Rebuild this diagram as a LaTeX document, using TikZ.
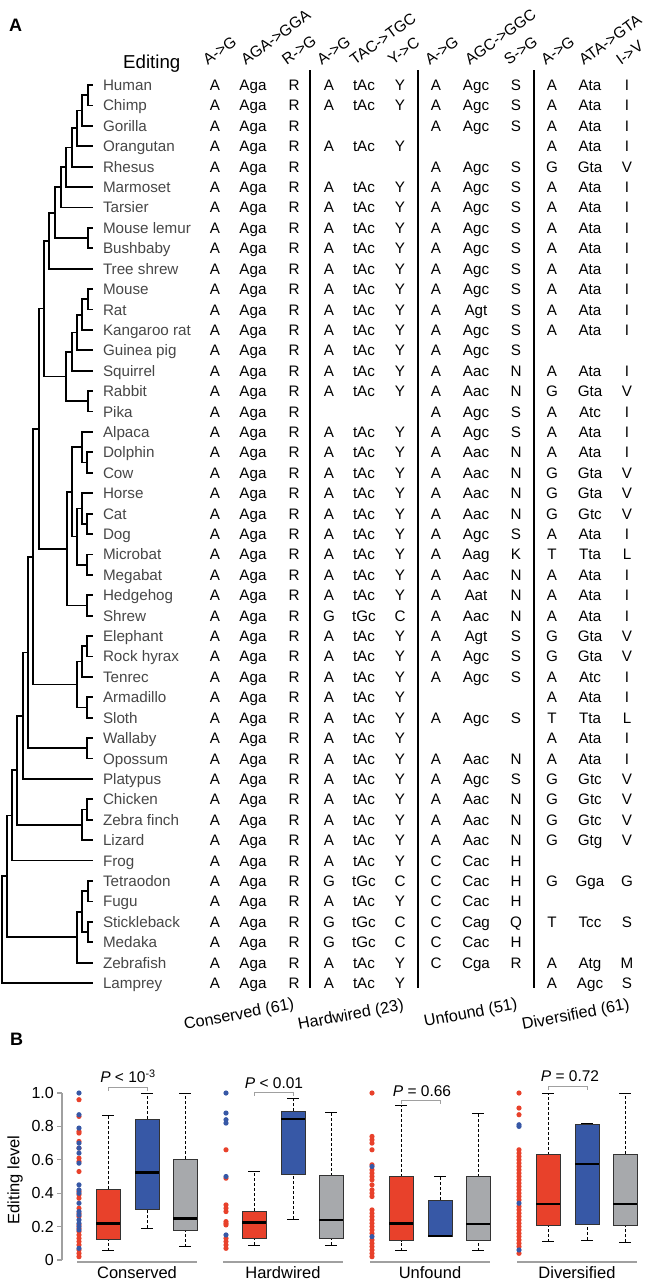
\documentclass[tikz,border=0pt]{standalone}
\usepackage{fontspec}
\setmainfont{Liberation Sans}
\definecolor{edred}{RGB}{232,65,43}
\definecolor{edblue}{RGB}{55,88,166}
\definecolor{edgray}{RGB}{167,169,172}
\definecolor{axisgray}{RGB}{160,160,160}

% one box of panel B: x, low whisker, q1, median, q3, high whisker, fill
\newcommand\editbox[7]{%
  \draw[whisk] (#1,#2) -- (#1,#3) (#1,#5) -- (#1,#6);
  \draw[whiskcap] (#1-6,#2) -- (#1+6,#2) (#1-6,#6) -- (#1+6,#6);
  \draw[boxline, fill=#7] (#1-12,#3) rectangle (#1+12,#5);
  \draw[medline] (#1-12,#4) -- (#1+12,#4);
}
\def\nocell{-}

\begin{document}
\begin{tikzpicture}[
    x=1pt, y=1pt,
    branch/.style={line width=1.8pt},
    divider/.style={line width=1.6pt},
    species/.style={anchor=west, inner xsep=10pt, inner ysep=0pt, outer sep=0pt,
      text height=11pt, text depth=0pt, text=black!72,
      font=\fontsize{15.2}{18}\selectfont},
    cell/.style={inner sep=0pt, text height=11pt, text depth=0pt,
      font=\fontsize{15.2}{18}\selectfont},
    header/.style={rotate=36, anchor=south west, inner sep=0pt,
      font=\fontsize{15.5}{18}\selectfont},
    category/.style={rotate=11, anchor=base west, inner sep=0pt,
      font=\fontsize{16.2}{20}\selectfont},
    panelletter/.style={anchor=base west, inner sep=0pt,
      font=\fontsize{18}{20}\bfseries\selectfont},
    axisline/.style={axisgray, line width=1.3pt},
    ticklbl/.style={anchor=east, inner sep=0pt, font=\fontsize{16}{18}\selectfont},
    grouplbl/.style={anchor=base, inner sep=0pt, font=\fontsize{16.5}{18}\selectfont},
    plbl/.style={anchor=base, inner sep=0pt, font=\fontsize{15.5}{18}\selectfont},
    pbracket/.style={axisgray, line width=0.9pt},
    whisk/.style={line width=0.6pt, densely dashed},
    whiskcap/.style={line width=0.8pt},
    boxline/.style={line width=0.7pt, draw=black!80},
    medline/.style={line width=2.6pt},
    reddot/.style={edred},
    bluedot/.style={edblue},
  ]
\useasboundingbox (0,0) rectangle (650,-1282);

% Panel A
\node[panelletter] (letterA) at (9,-31) {A};
\node[anchor=base west, inner sep=0pt, font=\fontsize{18.7}{20}\selectfont]
  (edhead) at (123,-68) {Editing};
% column heads, written out one by one
\node[header] (head1) at (208,-66) {A->G};
\node[header] (head2) at (246,-66) {AGA->GGA};
\node[header] (head3) at (287,-66) {R->G};
\node[header] (head4) at (322,-66) {A->G};
\node[header] (head5) at (355,-66) {TAC->TGC};
\node[header] (head6) at (393,-66) {Y->C};
\node[header] (head7) at (430,-66) {A->G};
\node[header] (head8) at (470,-66) {AGC->GGC};
\node[header] (head9) at (509,-66) {S->G};
\node[header] (head10) at (546,-66) {A->G};
\node[header] (head11) at (584,-66) {ATA->GTA};
\node[header] (head12) at (621,-66) {I->V};
\draw[divider] (310,-70) -- (310,-988);
\draw[divider] (418,-70) -- (418,-988);
\draw[divider] (534,-70) -- (534,-988);

\begin{scope}[yshift=-64.59pt, y=-20.41pt]
% species names and the codon table, one row per species
\foreach \i/\sp/\ca/\cb/\cc/\cd/\ce/\cf/\cg/\ch/\cj/\ck/\cl/\cm in {
  1/Human/A/Aga/R/A/tAc/Y/A/Agc/S/A/Ata/I,
  2/Chimp/A/Aga/R/A/tAc/Y/A/Agc/S/A/Ata/I,
  3/Gorilla/A/Aga/R/-/-/-/A/Agc/S/A/Ata/I,
  4/Orangutan/A/Aga/R/A/tAc/Y/-/-/-/A/Ata/I,
  5/Rhesus/A/Aga/R/-/-/-/A/Agc/S/G/Gta/V,
  6/Marmoset/A/Aga/R/A/tAc/Y/A/Agc/S/A/Ata/I,
  7/Tarsier/A/Aga/R/A/tAc/Y/A/Agc/S/A/Ata/I,
  8/Mouse lemur/A/Aga/R/A/tAc/Y/A/Agc/S/A/Ata/I,
  9/Bushbaby/A/Aga/R/A/tAc/Y/A/Agc/S/A/Ata/I,
  10/Tree shrew/A/Aga/R/A/tAc/Y/A/Agc/S/A/Ata/I,
  11/Mouse/A/Aga/R/A/tAc/Y/A/Agc/S/A/Ata/I,
  12/Rat/A/Aga/R/A/tAc/Y/A/Agt/S/A/Ata/I,
  13/Kangaroo rat/A/Aga/R/A/tAc/Y/A/Agc/S/A/Ata/I,
  14/Guinea pig/A/Aga/R/A/tAc/Y/A/Agc/S/-/-/-,
  15/Squirrel/A/Aga/R/A/tAc/Y/A/Aac/N/A/Ata/I,
  16/Rabbit/A/Aga/R/A/tAc/Y/A/Aac/N/G/Gta/V,
  17/Pika/A/Aga/R/-/-/-/A/Agc/S/A/Atc/I,
  18/Alpaca/A/Aga/R/A/tAc/Y/A/Agc/S/A/Ata/I,
  19/Dolphin/A/Aga/R/A/tAc/Y/A/Aac/N/A/Ata/I,
  20/Cow/A/Aga/R/A/tAc/Y/A/Aac/N/G/Gta/V,
  21/Horse/A/Aga/R/A/tAc/Y/A/Aac/N/G/Gta/V,
  22/Cat/A/Aga/R/A/tAc/Y/A/Aac/N/G/Gtc/V,
  23/Dog/A/Aga/R/A/tAc/Y/A/Agc/S/A/Ata/I,
  24/Microbat/A/Aga/R/A/tAc/Y/A/Aag/K/T/Tta/L,
  25/Megabat/A/Aga/R/A/tAc/Y/A/Aac/N/A/Ata/I,
  26/Hedgehog/A/Aga/R/A/tAc/Y/A/Aat/N/A/Ata/I,
  27/Shrew/A/Aga/R/G/tGc/C/A/Aac/N/A/Ata/I,
  28/Elephant/A/Aga/R/A/tAc/Y/A/Agt/S/G/Gta/V,
  29/Rock hyrax/A/Aga/R/A/tAc/Y/A/Agc/S/G/Gta/V,
  30/Tenrec/A/Aga/R/A/tAc/Y/A/Agc/S/A/Atc/I,
  31/Armadillo/A/Aga/R/A/tAc/Y/-/-/-/A/Ata/I,
  32/Sloth/A/Aga/R/A/tAc/Y/A/Agc/S/T/Tta/L,
  33/Wallaby/A/Aga/R/A/tAc/Y/-/-/-/A/Ata/I,
  34/Opossum/A/Aga/R/A/tAc/Y/A/Aac/N/A/Ata/I,
  35/Platypus/A/Aga/R/A/tAc/Y/A/Agc/S/G/Gtc/V,
  36/Chicken/A/Aga/R/A/tAc/Y/A/Aac/N/G/Gtc/V,
  37/Zebra finch/A/Aga/R/A/tAc/Y/A/Aac/N/G/Gtc/V,
  38/Lizard/A/Aga/R/A/tAc/Y/A/Aac/N/G/Gtg/V,
  39/Frog/A/Aga/R/A/tAc/Y/C/Cac/H/-/-/-,
  40/Tetraodon/A/Aga/R/G/tGc/C/C/Cac/H/G/Gga/G,
  41/Fugu/A/Aga/R/A/tAc/Y/C/Cac/H/-/-/-,
  42/Stickleback/A/Aga/R/G/tGc/C/C/Cag/Q/T/Tcc/S,
  43/Medaka/A/Aga/R/G/tGc/C/C/Cac/H/-/-/-,
  44/Zebrafish/A/Aga/R/A/tAc/Y/C/Cga/R/A/Atg/M,
  45/Lamprey/A/Aga/R/A/tAc/Y/-/-/-/A/Agc/S}{
  \node[species] (sp\i) at (93,\i) {\sp};
  \foreach \v [count=\k] in {\ca,\cb,\cc,\cd,\ce,\cf,\cg,\ch,\cj,\ck,\cl,\cm}{
    \edef\w{\v}
    \ifx\w\nocell\else
      \pgfmathsetmacro\cx{{215,253,294,329,364,400,436,476,516,552,590,627}[\k-1]}
      \node[cell] (c\i-\k) at (\cx,\i) {\w};
    \fi
  }
}

% internal nodes of the tree (x in pt, y in rows)
\foreach \n/\x/\y in {
  hc/88/1.5, hcg/82/2.25, hcgo/77/3.125, catarr/72/4.0625, simi/66/5.031,
  haplo/61/6.016, strep/88/8.5, prim/55/7.258, euarch/49/8.629,
  mr/88/11.5, mrk/82/12.25, mrkg/77/13.125, rod/72/14.0625, lago/88/16.5,
  glires/66/15.281, euarchg/44/11.955,
  dc/87/19.5, cetart/82/18.75, cd/87/22.5, hcd/82/21.75, bats/87/24.5,
  scro/77/23.125, fere/72/20.9375, eulipo/87/26.5, laura/67/23.719,
  boreo/39/17.837, eh/87/28.5, afro/82/29.25, xen/87/31.5, atl/77/30.375,
  euth/33/24.106, marsup/87/33.5, theria/28/28.803, mamm/23/31.902,
  cz/87/36.5, saur/82/37.25, amnio/17/34.576, tetra/12/36.788,
  tf/88/40.5, sm/88/42.5, perc/82/41.5, teleo/77/42.75,
  oste/7/39.769, vert/2/42.384}
  \coordinate (\n) at (\x,\y);

% branches, parent to child
\foreach \p/\c in {
  hc/sp1, hc/sp2, hcg/hc, hcg/sp3, hcgo/hcg, hcgo/sp4, catarr/hcgo, catarr/sp5,
  simi/catarr, simi/sp6, haplo/simi, haplo/sp7, strep/sp8, strep/sp9,
  prim/haplo, prim/strep, euarch/prim, euarch/sp10,
  mr/sp11, mr/sp12, mrk/mr, mrk/sp13, mrkg/mrk, mrkg/sp14, rod/mrkg, rod/sp15,
  lago/sp16, lago/sp17, glires/rod, glires/lago, euarchg/euarch, euarchg/glires,
  dc/sp19, dc/sp20, cetart/sp18, cetart/dc, cd/sp22, cd/sp23, hcd/sp21, hcd/cd,
  bats/sp24, bats/sp25, scro/hcd, scro/bats, fere/cetart, fere/scro,
  eulipo/sp26, eulipo/sp27, laura/fere, laura/eulipo, boreo/euarchg, boreo/laura,
  eh/sp28, eh/sp29, afro/eh, afro/sp30, xen/sp31, xen/sp32, atl/afro, atl/xen,
  euth/boreo, euth/atl, marsup/sp33, marsup/sp34, theria/euth, theria/marsup,
  mamm/theria, mamm/sp35, cz/sp36, cz/sp37, saur/cz, saur/sp38,
  amnio/mamm, amnio/saur, tetra/amnio, tetra/sp39,
  tf/sp40, tf/sp41, sm/sp42, sm/sp43, perc/tf, perc/sm, teleo/perc, teleo/sp44,
  oste/tetra, oste/teleo, vert/oste, vert/sp45}
  \draw[branch] (\p) |- (\c);
\end{scope}

\node[category] (catcons) at (185,-1030) {Conserved (61)};
\node[category] (cathard) at (299,-1030) {Hardwired (23)};
\node[category] (catunf) at (425,-1027) {Unfound (51)};
\node[category] (catdiv) at (523,-1030) {Diversified (61)};

% Panel B
\node[panelletter] (letterB) at (10,-1045) {B};
\begin{scope}[yshift=-1260pt, y=167pt]
\draw[axisline] (62,0) -- (62,1);
\foreach \v/\lbl [count=\k] in {0/0,0.2/0.2,0.4/0.4,0.6/0.6,0.8/0.8,1/1.0}{
  \draw[axisline] (57,\v) -- (62,\v);
  \node[ticklbl] (ytick\k) at (54,\v) {\lbl};
}
\node[rotate=90, inner sep=0pt, font=\fontsize{16.5}{18}\selectfont]
  (ylabel) at (15,0.48) {Editing level};

\foreach \s/\g [count=\k] in {77/Conserved,223/Hardwired,370/Unfound,517/Diversified}{
  \draw[axisline] (\s,-0.012) -- (\s+120,-0.012);
  \node[grouplbl] (group\k) at (\s+60,-0.113) {\g};
}

% dots: red and blue sites
\foreach \v in {0.02,0.04,0.06,0.09,0.11,0.13,0.15,0.17,0.19,0.21,0.26,0.28,
                0.31,0.37,0.39,0.41,0.53,0.59,0.61,0.67,0.71,0.76,0.77,0.86,0.96}
  \fill[reddot] (79,\v) circle[radius=2.6pt];
\foreach \v in {0.07,0.18,0.20,0.22,0.24,0.27,0.29,0.34,0.40,0.42,0.45,0.58,
                0.64,0.67,0.70,0.79,0.87,1.0}
  \fill[bluedot] (79,\v) circle[radius=2.6pt];
\foreach \v in {0.66,0.49,0.33,0.31,0.29,0.23,0.22,0.21,0.13,0.11,0.09,0.07}
  \fill[reddot] (226,\v) circle[radius=2.6pt];
\foreach \v in {1.0,0.88,0.84,0.82,0.50,0.15}
  \fill[bluedot] (226,\v) circle[radius=2.6pt];
\foreach \v in {0.02,0.04,0.06,0.08,0.10,0.12,0.16,0.18,0.20,0.22,0.24,0.26,
                0.28,0.30,0.38,0.40,0.42,0.45,0.48,0.50,0.52,0.54,0.57,0.66,
                0.70,0.72,0.74,1.0}
  \fill[reddot] (372,\v) circle[radius=2.6pt];
\foreach \v in {0.14,0.56}
  \fill[bluedot] (372,\v) circle[radius=2.6pt];
\foreach \v in {0.04,0.08,0.10,0.12,0.14,0.16,0.18,0.20,0.22,0.24,0.26,0.28,
                0.30,0.32,0.36,0.38,0.40,0.42,0.44,0.46,0.48,0.50,0.52,0.54,
                0.56,0.58,0.60,0.62,0.64,0.66,0.87,0.91,1.0}
  \fill[reddot] (519,\v) circle[radius=2.6pt];
\foreach \v in {0.06,0.34,0.80,0.81}
  \fill[bluedot] (519,\v) circle[radius=2.6pt];

% boxes
\editbox{108}{0.055}{0.125}{0.22}{0.425}{0.868}{edred}
\editbox{147}{0.19}{0.305}{0.525}{0.845}{1.0}{edblue}
\editbox{185}{0.08}{0.175}{0.25}{0.605}{1.0}{edgray}
\editbox{254}{0.09}{0.13}{0.225}{0.293}{0.533}{edred}
\editbox{293}{0.245}{0.515}{0.845}{0.89}{0.97}{edblue}
\editbox{331}{0.09}{0.13}{0.24}{0.505}{0.885}{edgray}
\editbox{401}{0.055}{0.115}{0.22}{0.5}{0.925}{edred}
\editbox{440}{0.14}{0.14}{0.145}{0.36}{0.5}{edblue}
\editbox{478}{0.055}{0.12}{0.215}{0.5}{0.875}{edgray}
\editbox{548}{0.11}{0.205}{0.335}{0.63}{1.0}{edred}
\editbox{587}{0.12}{0.215}{0.575}{0.815}{0.82}{edblue}
\editbox{625}{0.105}{0.205}{0.335}{0.635}{1.0}{edgray}

% red vs blue comparisons
\draw[pbracket] (108,1.012) -- (108,1.036) -- (147,1.036) -- (147,1.012);
\node[plbl] (pcons) at (128,1.06) {\textit{P} < 10\textsuperscript{-3}};
\draw[pbracket] (254,0.982) -- (254,1.006) -- (293,1.006) -- (293,0.982);
\node[plbl] (phard) at (274,1.03) {\textit{P} < 0.01};
\draw[pbracket] (401,0.934) -- (401,0.958) -- (440,0.958) -- (440,0.934);
\node[plbl] (punf) at (422,0.982) {\textit{P} = 0.66};
\draw[pbracket] (548,1.018) -- (548,1.042) -- (587,1.042) -- (587,1.018);
\node[plbl] (pdiv) at (570,1.066) {\textit{P} = 0.72};
\end{scope}

\end{tikzpicture}
\end{document}
